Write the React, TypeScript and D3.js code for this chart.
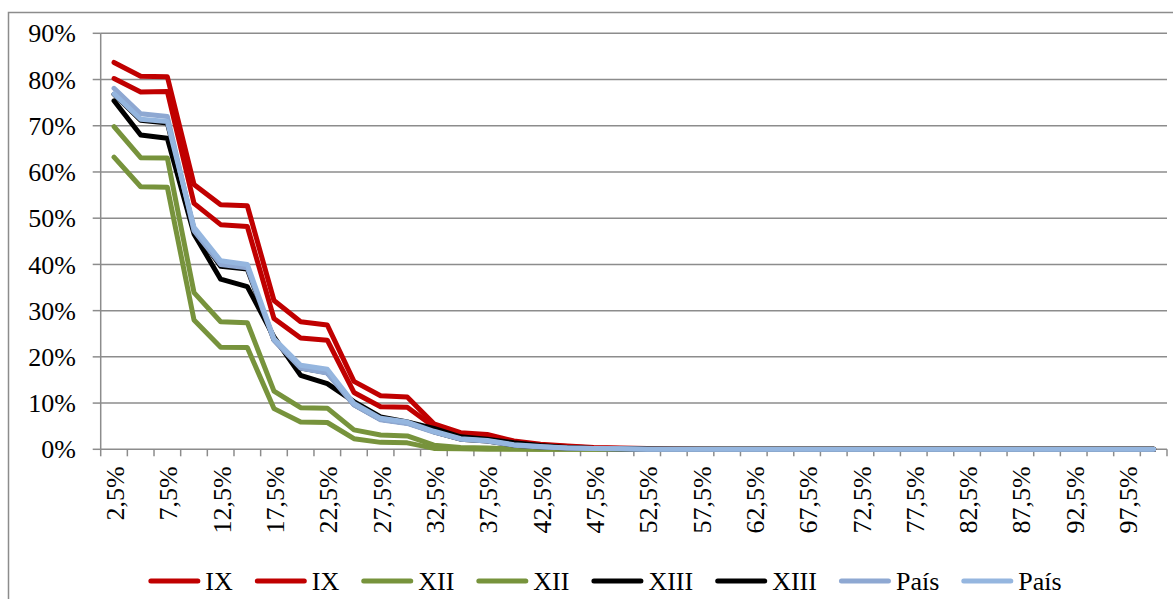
import React, { useEffect, useRef } from "react";
import * as d3 from "d3";

// categories 2,5% .. 100%
const categories = d3.range(1, 41).map((i) => i * 2.5);

const yTicks = [0, 0.1, 0.2, 0.3, 0.4, 0.5, 0.6, 0.7, 0.8, 0.9];

const ixA = [83.7, 80.7, 80.6, 57.3, 52.9, 52.7, 32.2, 27.6, 26.9, 14.7, 11.6, 11.3, 5.5, 3.6, 3.2, 1.8, 1.1, 0.7, 0.4, 0.3, 0.2, 0.1, 0.05, 0, 0, 0, 0, 0, 0, 0, 0, 0, 0, 0, 0, 0, 0, 0, 0, 0];
const ixB = [80.2, 77.3, 77.4, 53.2, 48.6, 48.2, 28.3, 24.1, 23.6, 12.3, 9.2, 9.1, 4.9, 3.1, 2.7, 1.6, 0.9, 0.6, 0.3, 0.2, 0.1, 0.05, 0, 0, 0, 0, 0, 0, 0, 0, 0, 0, 0, 0, 0, 0, 0, 0, 0, 0];
const xiiA = [69.8, 63.1, 63.0, 33.9, 27.6, 27.4, 12.6, 9.0, 8.9, 4.2, 3.1, 2.9, 0.9, 0.4, 0.3, 0.1, 0, 0, 0, 0, 0, 0, 0, 0, 0, 0, 0, 0, 0, 0, 0, 0, 0, 0, 0, 0, 0, 0, 0, 0];
const xiiB = [63.2, 56.8, 56.7, 28.0, 22.1, 22.0, 8.8, 5.9, 5.8, 2.3, 1.5, 1.4, 0.2, 0.1, 0, 0, 0, 0, 0, 0, 0, 0, 0, 0, 0, 0, 0, 0, 0, 0, 0, 0, 0, 0, 0, 0, 0, 0, 0, 0];
const xiiiA = [75.4, 68.0, 67.3, 46.6, 36.8, 35.2, 24.3, 16.0, 14.2, 10.3, 7.0, 5.9, 4.5, 2.7, 2.2, 1.4, 0.8, 0.4, 0.2, 0.1, 0.05, 0, 0, 0, 0, 0, 0, 0, 0, 0, 0, 0, 0, 0, 0, 0, 0, 0, 0, 0];
const xiiiB = [76.8, 71.2, 70.6, 47.6, 39.6, 39.0, 23.7, 17.6, 16.6, 9.7, 6.5, 5.7, 3.8, 2.2, 1.8, 0.9, 0.5, 0.3, 0.2, 0.1, 0, 0, 0, 0, 0, 0, 0, 0, 0, 0, 0, 0, 0, 0, 0, 0, 0, 0, 0, 0];
const paisA = [78.1, 72.6, 72.0, 47.3, 40.0, 39.3, 23.6, 17.6, 16.5, 9.6, 6.4, 5.6, 3.7, 2.2, 1.8, 0.9, 0.5, 0.3, 0.2, 0.1, 0, 0, 0, 0, 0, 0, 0, 0, 0, 0, 0, 0, 0, 0, 0, 0, 0, 0, 0, 0];
const paisB = [76.9, 71.4, 70.9, 48.0, 40.8, 40.0, 23.9, 18.2, 17.3, 9.9, 6.7, 5.9, 3.9, 2.3, 1.9, 1.0, 0.6, 0.3, 0.2, 0.1, 0, 0, 0, 0, 0, 0, 0, 0, 0, 0, 0, 0, 0, 0, 0, 0, 0, 0, 0, 0];

const seriesNames = ["IX", "IX", "XII", "XII", "XIII", "XIII", "País", "País"];
const seriesValues = [ixA, ixB, xiiA, xiiB, xiiiA, xiiiB, paisA, paisB];
const seriesColors = ["#C00000", "#C00000", "#77933C", "#77933C", "#000000", "#000000", "#8EA8D2", "#95B6DF"];

const FONT = "Liberation Serif, DejaVu Serif, serif";
const GRID = "#8C8C8C";

const fmtCat = (v: number) => `${String(v).replace(".", ",")}%`;

const App = () => {
  const svgRef = useRef<SVGSVGElement | null>(null);

  useEffect(() => {
    const svg = d3.select(svgRef.current);
    svg.selectAll("*").remove();

    const left = 100.7;
    const right = 1167;
    const top = 33.3;
    const bottom = 449.3;

    // chart area border (runs off the right/bottom edge)
    svg
      .append("rect")
      .attr("x", 8.5)
      .attr("y", 12.5)
      .attr("width", 1400)
      .attr("height", 800)
      .attr("fill", "white")
      .attr("stroke", GRID)
      .attr("stroke-width", 1.5);

    const x = d3.scaleBand<number>().domain(categories).range([left, right]).padding(0);
    const y = d3.scaleLinear().domain([0, 0.9]).range([bottom, top]);

    // gridlines
    svg
      .append("g")
      .selectAll("line")
      .data(yTicks.filter((d) => d > 0))
      .join("line")
      .attr("x1", left)
      .attr("x2", right)
      .attr("y1", (d) => y(d))
      .attr("y2", (d) => y(d))
      .attr("stroke", GRID)
      .attr("stroke-width", 1.5);

    // y axis
    const yAxis = svg.append("g");
    yAxis
      .append("line")
      .attr("x1", left)
      .attr("x2", left)
      .attr("y1", top)
      .attr("y2", bottom)
      .attr("stroke", GRID)
      .attr("stroke-width", 1.5);
    yAxis
      .selectAll("line.tick")
      .data(yTicks)
      .join("line")
      .attr("class", "tick")
      .attr("x1", left - 8)
      .attr("x2", left)
      .attr("y1", (d) => y(d))
      .attr("y2", (d) => y(d))
      .attr("stroke", GRID)
      .attr("stroke-width", 1.5);
    yAxis
      .selectAll("text")
      .data(yTicks)
      .join("text")
      .attr("x", 76)
      .attr("y", (d) => y(d))
      .attr("dy", "0.35em")
      .attr("text-anchor", "end")
      .style("font-family", FONT)
      .attr("font-size", 26)
      .attr("fill", "#000")
      .text((d) => `${Math.round(d * 100)}%`);

    // x axis
    const xAxis = svg.append("g");
    xAxis
      .append("line")
      .attr("x1", left)
      .attr("x2", right)
      .attr("y1", bottom)
      .attr("y2", bottom)
      .attr("stroke", GRID)
      .attr("stroke-width", 1.5);
    const edges = [...categories.map((c) => x(c) as number), right];
    xAxis
      .selectAll("line.tick")
      .data(edges)
      .join("line")
      .attr("class", "tick")
      .attr("x1", (d) => d)
      .attr("x2", (d) => d)
      .attr("y1", bottom)
      .attr("y2", bottom + 7)
      .attr("stroke", GRID)
      .attr("stroke-width", 1.5);
    xAxis
      .selectAll("text")
      .data(categories.filter((_, i) => i % 2 === 0))
      .join("text")
      .attr("transform", (d) => `translate(${(x(d) as number) + x.bandwidth() / 2 + 1},${bottom + 17}) rotate(-90)`)
      .attr("dy", "0.35em")
      .attr("text-anchor", "end")
      .style("font-family", FONT)
      .attr("font-size", 26)
      .attr("fill", "#000")
      .text((d) => fmtCat(d));

    // series lines
    const line = d3
      .line<number>()
      .x((_, i) => (x(categories[i]) as number) + x.bandwidth() / 2)
      .y((d) => y(d / 100));

    svg
      .append("g")
      .selectAll("path")
      .data(seriesValues)
      .join("path")
      .attr("d", (d) => line(d))
      .attr("fill", "none")
      .attr("stroke", (_, i) => seriesColors[i])
      .attr("stroke-width", 5)
      .attr("stroke-linejoin", "round")
      .attr("stroke-linecap", "round");

    // legend
    const legendY = 581;
    const lineLen = 47;
    const legend = svg.append("g");
    const items = legend
      .selectAll("g")
      .data(seriesNames)
      .join("g");
    items
      .append("line")
      .attr("x1", 2.5)
      .attr("x2", 2.5 + lineLen)
      .attr("y1", 0)
      .attr("y2", 0)
      .attr("stroke", (_, i) => seriesColors[i])
      .attr("stroke-width", 5)
      .attr("stroke-linecap", "round");
    items
      .append("text")
      .attr("x", lineLen + 10)
      .attr("dy", "0.35em")
      .style("font-family", FONT)
      .attr("font-size", 26)
      .attr("fill", "#000")
      .text((d) => d);

    const widths: number[] = [];
    items.each(function () {
      const t = d3.select(this).select("text").node() as SVGTextElement;
      widths.push(lineLen + 10 + t.getComputedTextLength());
    });
    const gap = 22;
    const total = d3.sum(widths) + gap * (widths.length - 1);
    let cur = 605 - total / 2;
    items.attr("transform", (_, i) => {
      const tx = cur;
      cur += widths[i] + gap;
      return `translate(${tx},${legendY})`;
    });
  }, []);

  return (
    <svg
      ref={svgRef}
      width={1173}
      height={599}
      style={{ position: "absolute", left: 0, top: 0, background: "white" }}
    />
  );
};

export default App;
